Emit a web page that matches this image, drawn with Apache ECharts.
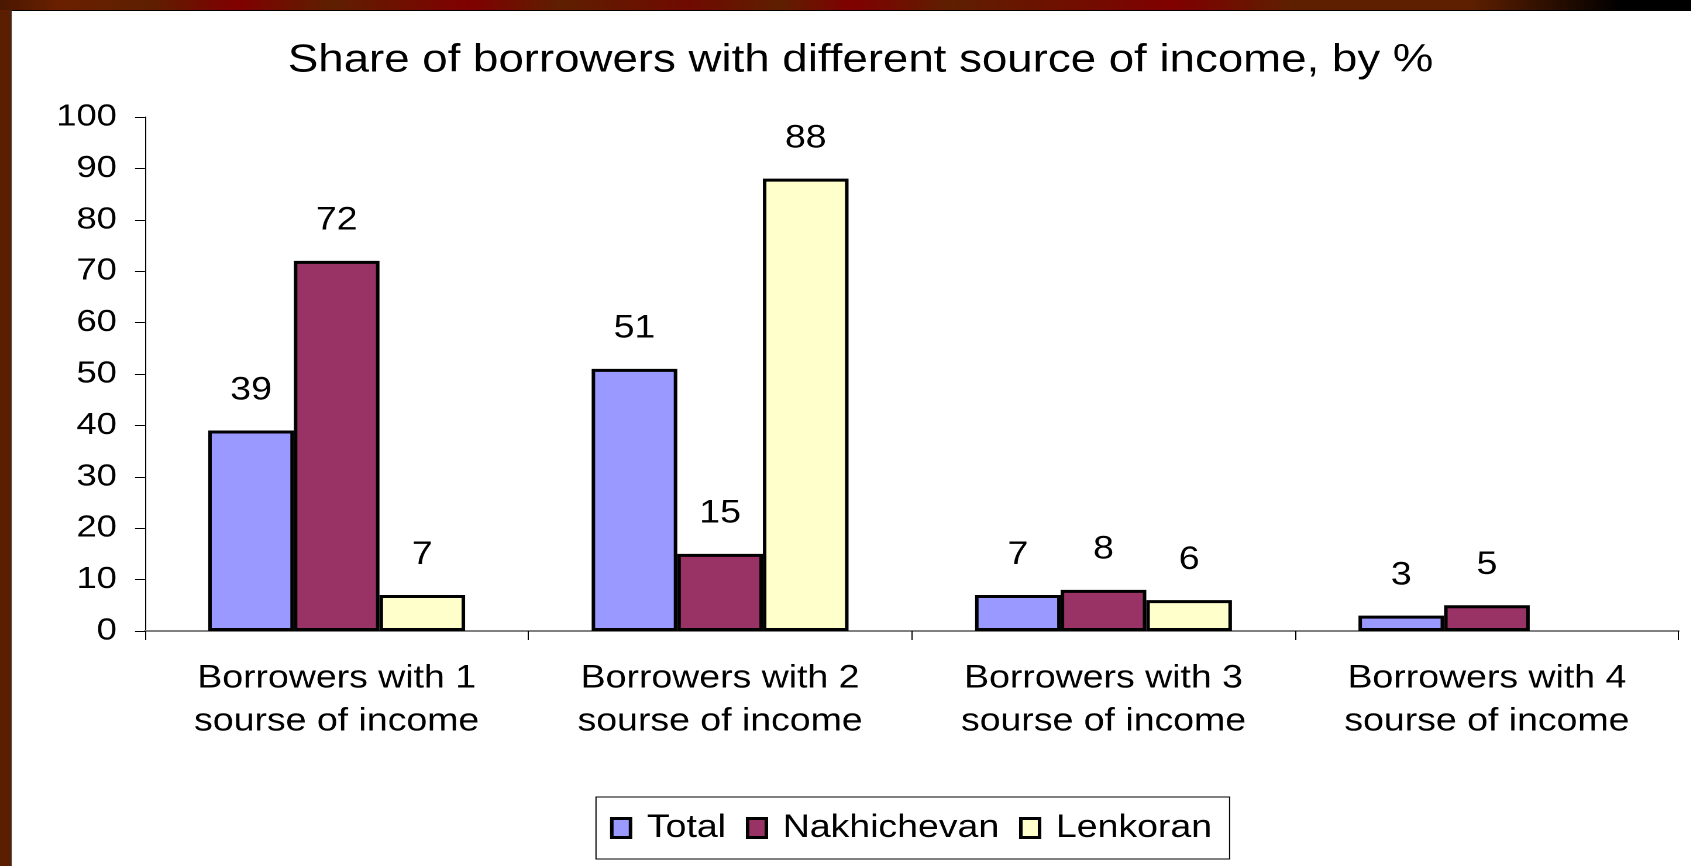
<!DOCTYPE html>
<html>
<head>
<meta charset="utf-8">
<script src="https://cdn.jsdelivr.net/npm/echarts@6/dist/echarts.min.js"></script>
<style>
  html, body { margin: 0; padding: 0; width: 1691px; height: 866px; overflow: hidden; background: #5c1e00; }
  #topband {
    position: absolute; left: 0; top: 0; width: 1691px; height: 10px;
    background: linear-gradient(to right, #4a1700 0px, #6a2000 60px, #5e1f00 150px, #800000 237px, #5e1f00 330px,
      #800000 469px, #5e1f00 560px, #700a00 690px, #5e1f00 780px, #800000 852px, #5e1f00 950px,
      #800000 1175px, #5e1f00 1290px, #5e1f00 1470px, #000000 1620px, #000000 1691px);
  }
  #panel {
    position: absolute; left: 11px; top: 10px; right: 0; bottom: 0;
    background: #ffffff; border-top: 1px solid #000; border-left: 1px solid #555;
  }
  /* the drawing is laid out narrower and widened to the slide's aspect */
  #chart {
    position: absolute; left: 0; top: 0; width: 1445.3px; height: 866px;
    transform: scaleX(1.17); transform-origin: 0 0;
  }
</style>
</head>
<body>
<div id="topband"></div>
<div id="panel"></div>
<div id="chart"></div>
<script>
const categories = [
  'Borrowers with 1\nsourse of income',
  'Borrowers with 2\nsourse of income',
  'Borrowers with 3\nsourse of income',
  'Borrowers with 4\nsourse of income'
];
const seriesNames = ['Total', 'Nakhichevan', 'Lenkoran'];
const totalValues = [39, 51, 7, 3];
const nakhichevanValues = [72, 15, 8, 5];
const lenkoranValues = [7, 88, 6, null];
const seriesColors = ['#9999FF', '#993366', '#FFFFCC'];

const FONT = "'Liberation Sans', Arial, sans-serif";

function barSeries(name, values, color) {
  return {
    name: name,
    type: 'bar',
    data: values,
    barGap: '0%',
    barCategoryGap: '33%',
    itemStyle: { color: color, borderColor: '#000000', borderWidth: 3 },
    label: {
      show: true,
      position: 'top',
      distance: 24,
      color: '#000000',
      fontFamily: FONT,
      fontSize: 32,
      formatter: function (p) { return p.value == null ? '' : String(p.value); }
    }
  };
}

const chart = echarts.init(document.getElementById('chart'), null, { renderer: 'canvas', devicePixelRatio: 2 });
chart.setOption({
  backgroundColor: 'transparent',
  animation: false,
  title: {
    text: 'Share of borrowers with different source of income, by %',
    left: 246,
    top: 41,
    padding: 0,
    textStyle: { fontFamily: FONT, fontSize: 39, fontWeight: 'normal', color: '#000000' }
  },
  legend: {
    data: seriesNames.map(function (n) { return { name: n, icon: 'rect' }; }),
    left: 509.4,
    top: 797,
    orient: 'horizontal',
    padding: [15, 15, 15, 12],
    itemWidth: 16,
    itemHeight: 19,
    itemGap: 17,
    borderColor: '#000000',
    borderWidth: 1,
    backgroundColor: '#ffffff',
    itemStyle: { borderColor: '#000000', borderWidth: 3 },
    textStyle: { fontFamily: FONT, fontSize: 32, color: '#000000', padding: [0, 0, 0, 9] }
  },
  grid: { left: 123.9, right: 10.3, top: 117, bottom: 235, containLabel: false },
  xAxis: {
    type: 'category',
    data: categories,
    boundaryGap: true,
    axisLine: { show: true, lineStyle: { color: '#808080', width: 2 } },
    axisTick: { show: true, interval: 0, length: 9, lineStyle: { color: '#000000', width: 1 } },
    axisLabel: {
      interval: 0, margin: 26, color: '#000000', fontFamily: FONT, fontSize: 32, lineHeight: 43
    },
    splitLine: { show: false }
  },
  yAxis: {
    type: 'value',
    min: 0,
    max: 100,
    interval: 10,
    axisLine: { show: true, lineStyle: { color: '#000000', width: 1 } },
    axisTick: { show: true, length: 8.5, lineStyle: { color: '#000000', width: 1 } },
    axisLabel: { margin: 24, color: '#000000', fontFamily: FONT, fontSize: 31 },
    splitLine: { show: false }
  },
  series: [
    barSeries(seriesNames[0], totalValues, seriesColors[0]),
    barSeries(seriesNames[1], nakhichevanValues, seriesColors[1]),
    barSeries(seriesNames[2], lenkoranValues, seriesColors[2])
  ]
});
</script>
</body>
</html>
